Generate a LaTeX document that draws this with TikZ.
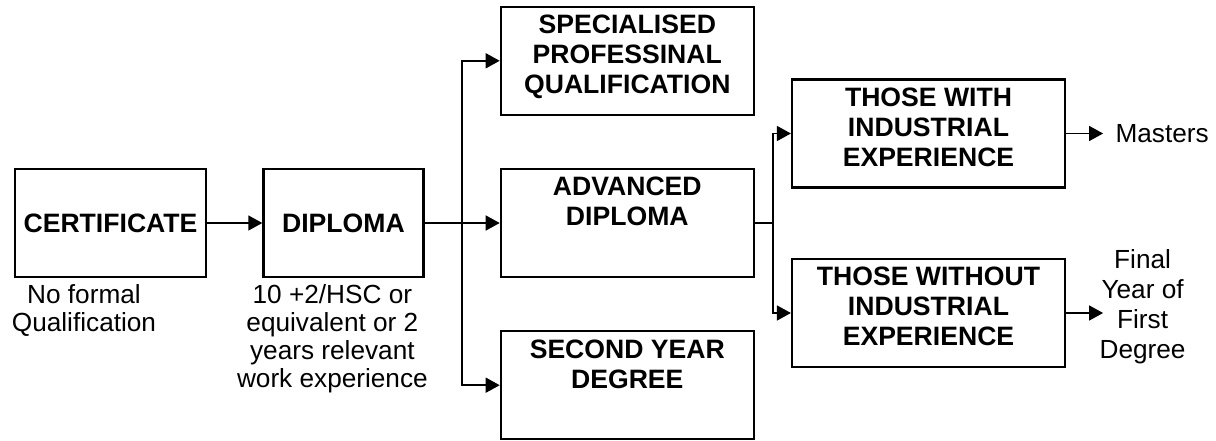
\documentclass[tikz,border=0pt]{standalone}
\usepackage{fontspec}
\setmainfont{Liberation Sans}
\usetikzlibrary{arrows.meta, positioning, calc}
\tikzset{
	box/.style={rectangle, draw=black, line width=1.1pt, minimum height=54pt,
		align=center, inner sep=3pt, font=\fontsize{13.3}{15}\selectfont\bfseries},
	certbox/.style={box, minimum width=95.5pt},
	diplbox/.style={box, minimum width=80pt},
	midbox/.style={box, minimum width=126.5pt},
	expbox/.style={box, minimum width=136.5pt},
	boxlabel/.style={anchor=north, align=center, inner sep=4.5pt,
		font=\fontsize{13.3}{15}\selectfont\bfseries},
	note/.style={align=center, inner sep=3pt, font=\fontsize{13.1}{14}\selectfont},
	arrow/.style={-{Triangle[length=7pt,width=7.5pt]}, line width=0.75pt},
	plainline/.style={line width=0.75pt},
}
\begin{document}
\begin{tikzpicture}
	\useasboundingbox (0,0) rectangle (608pt,220pt);
	% entry route
	\node[certbox] (cert) at (55.25pt,108.5pt) {CERTIFICATE};
	\node[diplbox, right=27.6pt of cert] (dipl) {DIPLOMA};
	\draw[arrow](cert)--(dipl);
	\node[note, below=0pt of cert.south, xshift=-13.25pt] (certnote) {No formal\\Qualification};
	\node[note, below=0pt of dipl.south, xshift=-5.5pt] (diplnote) {10 +2/HSC or\\equivalent or 2\\years relevant\\work experience};
	% after diploma
	\node[midbox, right=37.6pt of dipl,
		label={[boxlabel]north:ADVANCED\\DIPLOMA}] (adv) {};
	\node[midbox, above=26pt of adv,
		label={[boxlabel]north:SPECIALISED\\PROFESSINAL\\QUALIFICATION}] (spec) {};
	\node[midbox, below=26pt of adv,
		label={[boxlabel]north:SECOND YEAR\\DEGREE}] (second) {};
	\coordinate (split) at ($(dipl.east)!0.5!(adv.west)$);
	\draw[arrow](dipl)--(adv);
	\draw[arrow](split)|-(spec.west);
	\draw[arrow](split)|-(second.west);
	% after advanced diploma
	\node[expbox, right=18pt of adv, yshift=44.75pt,
		label={[boxlabel]north:THOSE WITH\\INDUSTRIAL\\EXPERIENCE}] (with) {};
	\node[expbox, right=18pt of adv, yshift=-45pt,
		label={[boxlabel]north:THOSE WITHOUT\\INDUSTRIAL\\EXPERIENCE}] (without) {};
	\coordinate (split2) at ($(adv.east)!0.5!(with.west|-adv.east)$);
	\draw[plainline](adv.east)--(split2);
	\draw[arrow](split2)|-(with.west);
	\draw[arrow](split2)|-(without.west);
	% outcomes
	\node[note, right=18.5pt of with, inner xsep=6pt] (masters) {Masters};
	\draw[arrow](with.east)--(masters.west);
	\coordinate[right=18.5pt of without.east] (finalin);
	\node[note, font=\fontsize{13.1}{15}\selectfont] (final) at ($(finalin)+(19.75pt,3pt)$) {Final\\Year of\\First\\Degree};
	\draw[arrow](without.east)--(finalin);
\end{tikzpicture}
\end{document}
